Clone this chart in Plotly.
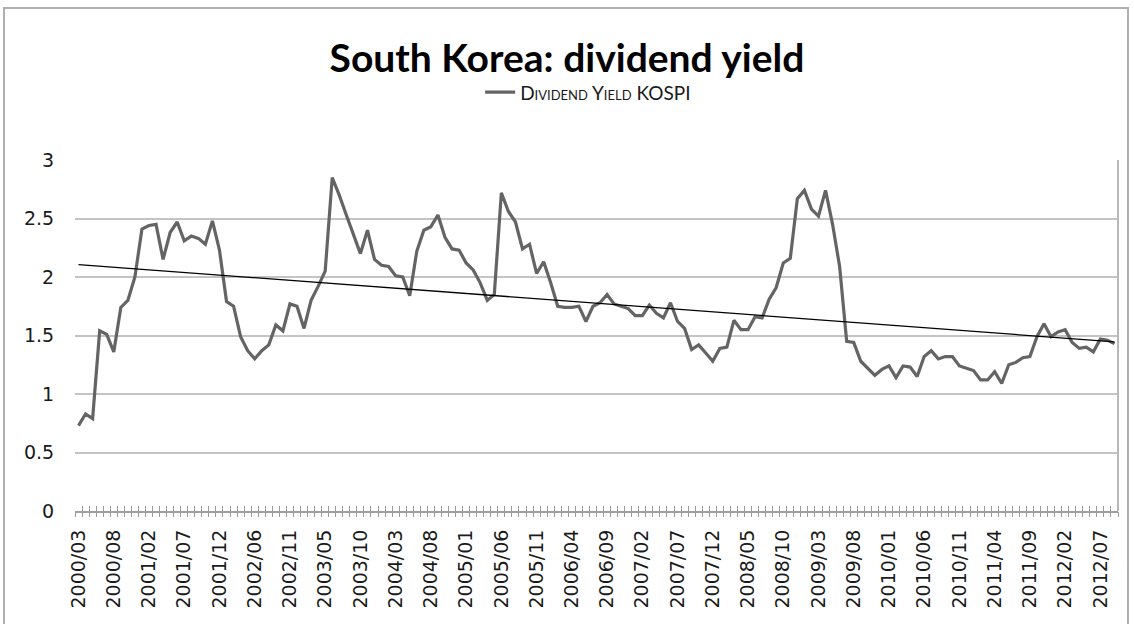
import numpy as np
import plotly.graph_objects as go

# Monthly dividend yield of KOSPI (categories 0..147)
dividend_yield = [
    0.73, 0.83, 0.79, 1.54, 1.51, 1.36, 1.74, 1.80, 2.00, 2.41,
    2.44, 2.45, 2.15, 2.38, 2.47, 2.31, 2.35, 2.33, 2.28, 2.48,
    2.23, 1.79, 1.75, 1.49, 1.37, 1.30, 1.37, 1.42, 1.59, 1.54,
    1.77, 1.75, 1.56, 1.80, 1.92, 2.05, 2.85, 2.70, 2.53, 2.37,
    2.20, 2.40, 2.15, 2.10, 2.09, 2.01, 2.00, 1.84, 2.22, 2.40,
    2.43, 2.53, 2.34, 2.24, 2.23, 2.12, 2.06, 1.95, 1.80, 1.85,
    2.72, 2.56, 2.47, 2.24, 2.28, 2.03, 2.13, 1.95, 1.75, 1.74,
    1.74, 1.75, 1.62, 1.75, 1.78, 1.85, 1.77, 1.75, 1.73, 1.67,
    1.67, 1.76, 1.69, 1.65, 1.78, 1.62, 1.56, 1.38, 1.42, 1.35,
    1.28, 1.39, 1.40, 1.63, 1.55, 1.55, 1.66, 1.65, 1.81, 1.91,
    2.12, 2.16, 2.67, 2.74, 2.58, 2.52, 2.74, 2.45, 2.09, 1.45,
    1.44, 1.28, 1.22, 1.16, 1.21, 1.24, 1.14, 1.24, 1.23, 1.15,
    1.32, 1.37, 1.30, 1.32, 1.32, 1.24, 1.22, 1.20, 1.12, 1.12,
    1.19, 1.09, 1.25, 1.27, 1.31, 1.32, 1.49, 1.60, 1.49, 1.53,
    1.55, 1.44, 1.39, 1.40, 1.36, 1.47, 1.46, 1.43,
]

# Category tick labels (one every 5 categories)
tick_labels = [
    "2000/03", "2000/08", "2001/02", "2001/07", "2001/12", "2002/06",
    "2002/11", "2003/05", "2003/10", "2004/03", "2004/08", "2005/01",
    "2005/06", "2005/11", "2006/04", "2006/09", "2007/02", "2007/07",
    "2007/12", "2008/05", "2008/10", "2009/03", "2009/08", "2010/01",
    "2010/06", "2010/11", "2011/04", "2011/09", "2012/02", "2012/07",
]
tick_step = 5
y_ticks = [0, 0.5, 1, 1.5, 2, 2.5, 3]
y_tick_text = ["0", "0.5", "1", "1.5", "2", "2.5", "3"]

n = len(dividend_yield)
idx = np.arange(n)
slope, intercept = np.polyfit(idx, dividend_yield, 1)
trend = slope * idx + intercept

TICK_FONT = dict(family="DejaVu Sans", size=19, color="#1a1a1a")

fig = go.Figure()
fig.add_trace(go.Scatter(
    x=idx, y=dividend_yield, mode="lines", name="Dividend Yield KOSPI",
    line=dict(color="#646464", width=3.2),
))
fig.add_trace(go.Scatter(
    x=idx, y=trend, mode="lines", showlegend=False, hoverinfo="skip",
    line=dict(color="#000000", width=1.3),
))
# invisible helpers so that the tick-mark axes are drawn
for ax in ("x2", "x3"):
    fig.add_trace(go.Scatter(x=[None], y=[None], xaxis=ax, showlegend=False,
                             hoverinfo="skip"))

xr = [-0.5, n - 0.5]
bounds = list(np.arange(-0.5, n, 1.0))
hatch = dict(range=xr, tickvals=bounds, ticklen=5, tickwidth=1.2, tickcolor="#9a9a9a",
             showticklabels=False, showgrid=False, zeroline=False,
             overlaying="x", anchor="y", automargin=False)
fig.update_layout(
    width=1134, height=624,
    margin=dict(l=75, r=16, t=160, b=113),
    paper_bgcolor="white", plot_bgcolor="white",
    title=dict(text="<b>South Korea: dividend yield</b>", x=0.5, xanchor="center",
               y=1 - 58 / 624, yanchor="middle",
               font=dict(family="Lato", size=39, color="#000000")),
    legend=dict(orientation="h", x=0.492, xanchor="center", y=1.193, yanchor="middle",
                font=dict(family="Lato", size=19, color="#1a1a1a", variant="small-caps"),
                bgcolor="rgba(0,0,0,0)", itemwidth=30),
    xaxis=dict(range=xr, tickvals=list(range(0, n, tick_step))[:len(tick_labels)],
               ticktext=tick_labels, tickangle=-90, ticks="outside", ticklen=9,
               tickcolor="rgba(0,0,0,0)", tickfont=TICK_FONT, showgrid=False,
               showline=True, linecolor="#a0a0a0", linewidth=2, zeroline=False,
               automargin=False),
    xaxis2=dict(hatch, ticks="outside"),
    xaxis3=dict(hatch, ticks="inside"),
    yaxis=dict(range=[0, 3], tickvals=y_ticks, ticktext=y_tick_text,
               showgrid=True, gridcolor="#c4c4c4", gridwidth=2, zeroline=False,
               showline=False, ticks="outside", ticklen=16, tickcolor="rgba(0,0,0,0)",
               tickfont=TICK_FONT, automargin=False),
    shapes=[
        dict(type="line", xref="paper", yref="paper", x0=1, x1=1, y0=0, y1=1,
             line=dict(color="#b8b8b8", width=2)),
        dict(type="rect", xref="paper", yref="paper",
             x0=(4 - 75) / 1043, x1=(1128 - 75) / 1043, y0=-0.4, y1=(511 - 8) / 351,
             line=dict(color="#b0b0b0", width=2), layer="below"),
    ],
)

fig.write_html("out.html", config={"displayModeBar": False},
               post_script="document.body.style.margin='0';")
